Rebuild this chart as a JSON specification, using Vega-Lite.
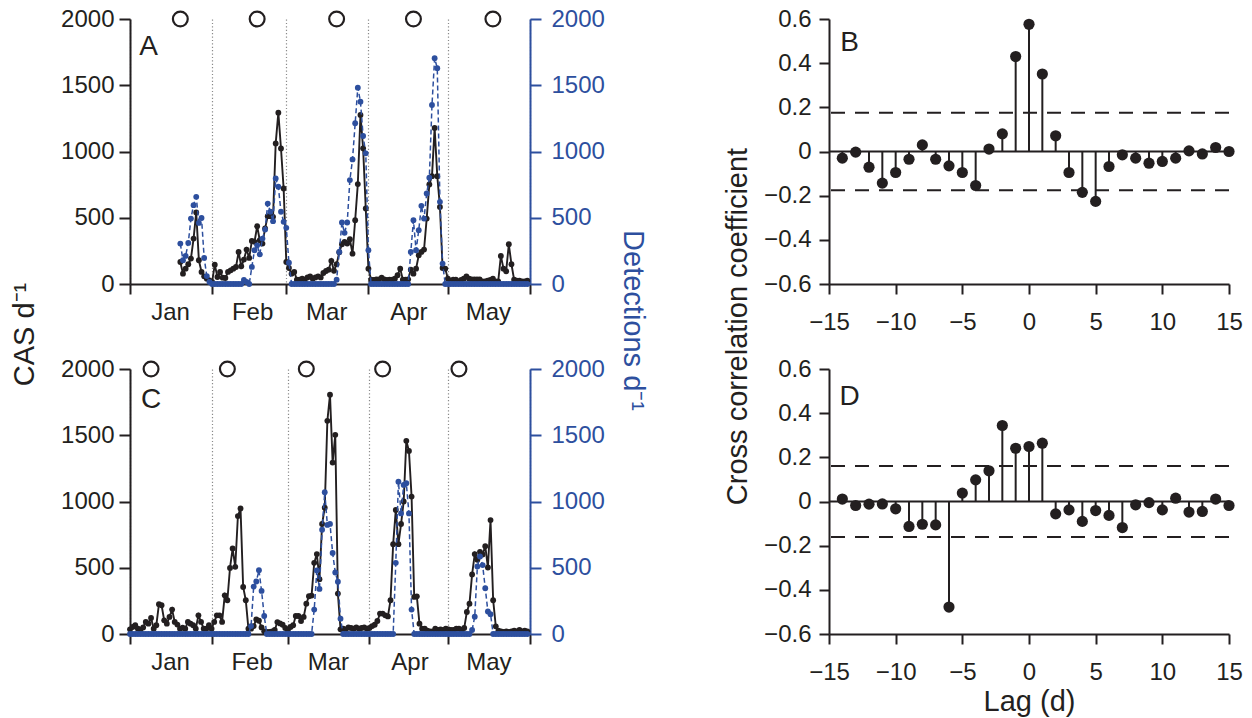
{
"$schema": "https://vega.github.io/schema/vega-lite/v6.json",
"background": "white",
"padding": {"left": 10, "top": 7, "right": 5, "bottom": 5},
"datasets": {
"tsA": [
{"t":"2011-01-20","cas":166,"det":305},{"t":"2011-01-21","cas":78,"det":179},{"t":"2011-01-22","cas":116,"det":212},{"t":"2011-01-23","cas":149,"det":310},{"t":"2011-01-24","cas":192,"det":494},{"t":"2011-01-25","cas":343,"det":595},{"t":"2011-01-26","cas":540,"det":658},{"t":"2011-01-27","cas":179,"det":461},{"t":"2011-01-28","cas":91,"det":499},{"t":"2011-01-29","cas":58,"det":197},{"t":"2011-01-30","cas":40,"det":60},{"t":"2011-01-31","cas":28,"det":15},
{"t":"2011-02-01","cas":15,"det":0},{"t":"2011-02-02","cas":146,"det":0},{"t":"2011-02-03","cas":53,"det":0},{"t":"2011-02-04","cas":91,"det":0},{"t":"2011-02-05","cas":48,"det":0},{"t":"2011-02-06","cas":45,"det":0},{"t":"2011-02-07","cas":91,"det":0},{"t":"2011-02-08","cas":103,"det":0},{"t":"2011-02-09","cas":116,"det":0},{"t":"2011-02-10","cas":128,"det":0},{"t":"2011-02-11","cas":242,"det":0},{"t":"2011-02-12","cas":134,"det":0},{"t":"2011-02-13","cas":184,"det":30},{"t":"2011-02-14","cas":260,"det":15},{"t":"2011-02-15","cas":197,"det":0},{"t":"2011-02-16","cas":325,"det":129},{"t":"2011-02-17","cas":318,"det":255},{"t":"2011-02-18","cas":436,"det":292},{"t":"2011-02-19","cas":330,"det":224},{"t":"2011-02-20","cas":305,"det":343},{"t":"2011-02-21","cas":420,"det":411},{"t":"2011-02-22","cas":512,"det":607},{"t":"2011-02-23","cas":512,"det":545},{"t":"2011-02-24","cas":507,"det":474},{"t":"2011-02-25","cas":1061,"det":797},{"t":"2011-02-26","cas":1293,"det":734},{"t":"2011-02-27","cas":1023,"det":545},{"t":"2011-02-28","cas":721,"det":469},
{"t":"2011-03-01","cas":166,"det":424},{"t":"2011-03-02","cas":121,"det":161},{"t":"2011-03-03","cas":78,"det":0},{"t":"2011-03-04","cas":91,"det":0},{"t":"2011-03-05","cas":33,"det":0},{"t":"2011-03-06","cas":33,"det":0},{"t":"2011-03-07","cas":40,"det":0},{"t":"2011-03-08","cas":33,"det":0},{"t":"2011-03-09","cas":50,"det":0},{"t":"2011-03-10","cas":58,"det":0},{"t":"2011-03-11","cas":40,"det":0},{"t":"2011-03-12","cas":50,"det":0},{"t":"2011-03-13","cas":58,"det":0},{"t":"2011-03-14","cas":50,"det":0},{"t":"2011-03-15","cas":83,"det":0},{"t":"2011-03-16","cas":98,"det":0},{"t":"2011-03-17","cas":108,"det":0},{"t":"2011-03-18","cas":175,"det":0},{"t":"2011-03-19","cas":100,"det":0},{"t":"2011-03-20","cas":150,"det":33},{"t":"2011-03-21","cas":240,"det":242},{"t":"2011-03-22","cas":300,"det":464},{"t":"2011-03-23","cas":318,"det":386},{"t":"2011-03-24","cas":305,"det":464},{"t":"2011-03-25","cas":338,"det":784},{"t":"2011-03-26","cas":229,"det":940},{"t":"2011-03-27","cas":481,"det":1213},{"t":"2011-03-28","cas":754,"det":1482},{"t":"2011-03-29","cas":1276,"det":1376},{"t":"2011-03-30","cas":1024,"det":1117},{"t":"2011-03-31","cas":570,"det":986},
{"t":"2011-04-01","cas":116,"det":255},{"t":"2011-04-02","cas":33,"det":0},{"t":"2011-04-03","cas":30,"det":0},{"t":"2011-04-04","cas":35,"det":0},{"t":"2011-04-05","cas":35,"det":0},{"t":"2011-04-06","cas":48,"det":0},{"t":"2011-04-07","cas":35,"det":0},{"t":"2011-04-08","cas":30,"det":0},{"t":"2011-04-09","cas":33,"det":0},{"t":"2011-04-10","cas":33,"det":0},{"t":"2011-04-11","cas":40,"det":0},{"t":"2011-04-12","cas":66,"det":0},{"t":"2011-04-13","cas":116,"det":0},{"t":"2011-04-14","cas":33,"det":0},{"t":"2011-04-15","cas":33,"det":0},{"t":"2011-04-16","cas":35,"det":0},{"t":"2011-04-17","cas":108,"det":242},{"t":"2011-04-18","cas":78,"det":481},{"t":"2011-04-19","cas":116,"det":255},{"t":"2011-04-20","cas":217,"det":406},{"t":"2011-04-21","cas":242,"det":590},{"t":"2011-04-22","cas":260,"det":494},{"t":"2011-04-23","cas":494,"det":683},{"t":"2011-04-24","cas":751,"det":802},{"t":"2011-04-25","cas":814,"det":1351},{"t":"2011-04-26","cas":1178,"det":1704},{"t":"2011-04-27","cas":814,"det":1629},{"t":"2011-04-28","cas":582,"det":620},{"t":"2011-04-29","cas":121,"det":154},{"t":"2011-04-30","cas":116,"det":0},
{"t":"2011-05-01","cas":40,"det":0},{"t":"2011-05-02","cas":25,"det":0},{"t":"2011-05-03","cas":33,"det":0},{"t":"2011-05-04","cas":33,"det":0},{"t":"2011-05-05","cas":20,"det":0},{"t":"2011-05-06","cas":30,"det":0},{"t":"2011-05-07","cas":40,"det":0},{"t":"2011-05-08","cas":58,"det":0},{"t":"2011-05-09","cas":40,"det":0},{"t":"2011-05-10","cas":35,"det":0},{"t":"2011-05-11","cas":35,"det":0},{"t":"2011-05-12","cas":35,"det":0},{"t":"2011-05-13","cas":35,"det":0},{"t":"2011-05-14","cas":20,"det":0},{"t":"2011-05-15","cas":20,"det":0},{"t":"2011-05-16","cas":25,"det":0},{"t":"2011-05-17","cas":30,"det":0},{"t":"2011-05-18","cas":40,"det":0},{"t":"2011-05-19","cas":20,"det":0},{"t":"2011-05-20","cas":20,"det":0},{"t":"2011-05-21","cas":212,"det":0},{"t":"2011-05-22","cas":116,"det":0},{"t":"2011-05-23","cas":96,"det":0},{"t":"2011-05-24","cas":300,"det":0},{"t":"2011-05-25","cas":149,"det":0},{"t":"2011-05-26","cas":33,"det":0},{"t":"2011-05-27","cas":25,"det":0},{"t":"2011-05-28","cas":25,"det":0},{"t":"2011-05-29","cas":20,"det":0},{"t":"2011-05-30","cas":20,"det":0},{"t":"2011-05-31","cas":25,"det":0}
],
"tsC": [
{"t":"2012-01-01","cas":35,"det":0},{"t":"2012-01-02","cas":53,"det":0},{"t":"2012-01-03","cas":66,"det":0},{"t":"2012-01-04","cas":40,"det":0},{"t":"2012-01-05","cas":33,"det":0},{"t":"2012-01-06","cas":50,"det":0},{"t":"2012-01-07","cas":91,"det":0},{"t":"2012-01-08","cas":78,"det":0},{"t":"2012-01-09","cas":121,"det":0},{"t":"2012-01-10","cas":40,"det":0},{"t":"2012-01-11","cas":66,"det":0},{"t":"2012-01-12","cas":225,"det":0},{"t":"2012-01-13","cas":217,"det":0},{"t":"2012-01-14","cas":103,"det":0},{"t":"2012-01-15","cas":78,"det":0},{"t":"2012-01-16","cas":129,"det":0},{"t":"2012-01-17","cas":184,"det":0},{"t":"2012-01-18","cas":91,"det":0},{"t":"2012-01-19","cas":71,"det":0},{"t":"2012-01-20","cas":40,"det":0},{"t":"2012-01-21","cas":48,"det":0},{"t":"2012-01-22","cas":40,"det":0},{"t":"2012-01-23","cas":91,"det":0},{"t":"2012-01-24","cas":78,"det":0},{"t":"2012-01-25","cas":66,"det":0},{"t":"2012-01-26","cas":40,"det":0},{"t":"2012-01-27","cas":141,"det":0},{"t":"2012-01-28","cas":91,"det":0},{"t":"2012-01-29","cas":40,"det":0},{"t":"2012-01-30","cas":40,"det":0},{"t":"2012-01-31","cas":66,"det":0},
{"t":"2012-02-01","cas":40,"det":0},{"t":"2012-02-02","cas":91,"det":0},{"t":"2012-02-03","cas":141,"det":0},{"t":"2012-02-04","cas":141,"det":0},{"t":"2012-02-05","cas":91,"det":0},{"t":"2012-02-06","cas":292,"det":0},{"t":"2012-02-07","cas":255,"det":0},{"t":"2012-02-08","cas":499,"det":0},{"t":"2012-02-09","cas":645,"det":0},{"t":"2012-02-10","cas":507,"det":0},{"t":"2012-02-11","cas":890,"det":0},{"t":"2012-02-12","cas":948,"det":0},{"t":"2012-02-13","cas":355,"det":0},{"t":"2012-02-14","cas":255,"det":0},{"t":"2012-02-15","cas":40,"det":0},{"t":"2012-02-16","cas":40,"det":60},{"t":"2012-02-17","cas":60,"det":358},{"t":"2012-02-18","cas":110,"det":396},{"t":"2012-02-19","cas":100,"det":482},{"t":"2012-02-20","cas":50,"det":325},{"t":"2012-02-21","cas":20,"det":136},{"t":"2012-02-22","cas":15,"det":0},{"t":"2012-02-23","cas":15,"det":0},{"t":"2012-02-24","cas":20,"det":0},{"t":"2012-02-25","cas":30,"det":0},{"t":"2012-02-26","cas":90,"det":0},{"t":"2012-02-27","cas":80,"det":0},{"t":"2012-02-28","cas":70,"det":0},{"t":"2012-02-29","cas":45,"det":0},
{"t":"2012-03-01","cas":25,"det":0},{"t":"2012-03-02","cas":53,"det":0},{"t":"2012-03-03","cas":66,"det":0},{"t":"2012-03-04","cas":136,"det":0},{"t":"2012-03-05","cas":136,"det":0},{"t":"2012-03-06","cas":98,"det":0},{"t":"2012-03-07","cas":129,"det":0},{"t":"2012-03-08","cas":229,"det":0},{"t":"2012-03-09","cas":285,"det":0},{"t":"2012-03-10","cas":290,"det":0},{"t":"2012-03-11","cas":537,"det":184},{"t":"2012-03-12","cas":603,"det":479},{"t":"2012-03-13","cas":414,"det":340},{"t":"2012-03-14","cas":830,"det":787},{"t":"2012-03-15","cas":953,"det":1070},{"t":"2012-03-16","cas":1609,"det":823},{"t":"2012-03-17","cas":1806,"det":831},{"t":"2012-03-18","cas":1294,"det":612},{"t":"2012-03-19","cas":1503,"det":464},{"t":"2012-03-20","cas":305,"det":395},{"t":"2012-03-21","cas":35,"det":116},{"t":"2012-03-22","cas":40,"det":0},{"t":"2012-03-23","cas":35,"det":0},{"t":"2012-03-24","cas":50,"det":0},{"t":"2012-03-25","cas":45,"det":0},{"t":"2012-03-26","cas":40,"det":0},{"t":"2012-03-27","cas":50,"det":0},{"t":"2012-03-28","cas":40,"det":0},{"t":"2012-03-29","cas":45,"det":0},{"t":"2012-03-30","cas":50,"det":0},{"t":"2012-03-31","cas":40,"det":0},
{"t":"2012-04-01","cas":45,"det":0},{"t":"2012-04-02","cas":60,"det":0},{"t":"2012-04-03","cas":70,"det":0},{"t":"2012-04-04","cas":98,"det":0},{"t":"2012-04-05","cas":154,"det":0},{"t":"2012-04-06","cas":154,"det":0},{"t":"2012-04-07","cas":141,"det":0},{"t":"2012-04-08","cas":133,"det":0},{"t":"2012-04-09","cas":255,"det":0},{"t":"2012-04-10","cas":678,"det":0},{"t":"2012-04-11","cas":936,"det":537},{"t":"2012-04-12","cas":678,"det":1150},{"t":"2012-04-13","cas":830,"det":910},{"t":"2012-04-14","cas":1000,"det":1125},{"t":"2012-04-15","cas":1458,"det":1138},{"t":"2012-04-16","cas":1382,"det":910},{"t":"2012-04-17","cas":1037,"det":184},{"t":"2012-04-18","cas":280,"det":0},{"t":"2012-04-19","cas":284,"det":0},{"t":"2012-04-20","cas":78,"det":0},{"t":"2012-04-21","cas":40,"det":0},{"t":"2012-04-22","cas":40,"det":0},{"t":"2012-04-23","cas":25,"det":0},{"t":"2012-04-24","cas":20,"det":0},{"t":"2012-04-25","cas":20,"det":0},{"t":"2012-04-26","cas":40,"det":0},{"t":"2012-04-27","cas":30,"det":0},{"t":"2012-04-28","cas":35,"det":0},{"t":"2012-04-29","cas":30,"det":0},{"t":"2012-04-30","cas":40,"det":0},
{"t":"2012-05-01","cas":35,"det":0},{"t":"2012-05-02","cas":30,"det":0},{"t":"2012-05-03","cas":30,"det":0},{"t":"2012-05-04","cas":40,"det":0},{"t":"2012-05-05","cas":40,"det":0},{"t":"2012-05-06","cas":30,"det":0},{"t":"2012-05-07","cas":45,"det":0},{"t":"2012-05-08","cas":166,"det":0},{"t":"2012-05-09","cas":229,"det":0},{"t":"2012-05-10","cas":450,"det":30},{"t":"2012-05-11","cas":603,"det":130},{"t":"2012-05-12","cas":560,"det":510},{"t":"2012-05-13","cas":620,"det":585},{"t":"2012-05-14","cas":600,"det":520},{"t":"2012-05-15","cas":663,"det":345},{"t":"2012-05-16","cas":502,"det":170},{"t":"2012-05-17","cas":860,"det":150},{"t":"2012-05-18","cas":255,"det":0},{"t":"2012-05-19","cas":58,"det":0},{"t":"2012-05-20","cas":25,"det":0},{"t":"2012-05-21","cas":20,"det":0},{"t":"2012-05-22","cas":15,"det":0},{"t":"2012-05-23","cas":20,"det":0},{"t":"2012-05-24","cas":15,"det":0},{"t":"2012-05-25","cas":20,"det":0},{"t":"2012-05-26","cas":25,"det":0},{"t":"2012-05-27","cas":20,"det":0},{"t":"2012-05-28","cas":30,"det":0},{"t":"2012-05-29","cas":20,"det":0},{"t":"2012-05-30","cas":25,"det":0},{"t":"2012-05-31","cas":20,"det":0}
],
"moonA": [{"t":"2011-01-20"},{"t":"2011-02-18"},{"t":"2011-03-20"},{"t":"2011-04-18"},{"t":"2011-05-18"}],
"moonC": [{"t":"2012-01-09"},{"t":"2012-02-07"},{"t":"2012-03-08"},{"t":"2012-04-06"},{"t":"2012-05-05"}],
"ccB": [
{"lag":-14,"r":-0.030},{"lag":-13,"r":-0.003},{"lag":-12,"r":-0.071},{"lag":-11,"r":-0.143},{"lag":-10,"r":-0.095},{"lag":-9,"r":-0.035},{"lag":-8,"r":0.030},{"lag":-7,"r":-0.035},{"lag":-6,"r":-0.065},{"lag":-5,"r":-0.095},{"lag":-4,"r":-0.154},{"lag":-3,"r":0.011},{"lag":-2,"r":0.080},{"lag":-1,"r":0.430},{"lag":0,"r":0.576},{"lag":1,"r":0.351},{"lag":2,"r":0.071},{"lag":3,"r":-0.095},{"lag":4,"r":-0.185},{"lag":5,"r":-0.226},{"lag":6,"r":-0.068},{"lag":7,"r":-0.015},{"lag":8,"r":-0.030},{"lag":9,"r":-0.053},{"lag":10,"r":-0.045},{"lag":11,"r":-0.030},{"lag":12,"r":0.003},{"lag":13,"r":-0.011},{"lag":14,"r":0.018},{"lag":15,"r":0.000}
],
"ccD": [
{"lag":-14,"r":0.011},{"lag":-13,"r":-0.018},{"lag":-12,"r":-0.012},{"lag":-11,"r":-0.011},{"lag":-10,"r":-0.033},{"lag":-9,"r":-0.113},{"lag":-8,"r":-0.103},{"lag":-7,"r":-0.106},{"lag":-6,"r":-0.478},{"lag":-5,"r":0.038},{"lag":-4,"r":0.098},{"lag":-3,"r":0.139},{"lag":-2,"r":0.344},{"lag":-1,"r":0.241},{"lag":0,"r":0.249},{"lag":1,"r":0.264},{"lag":2,"r":-0.056},{"lag":3,"r":-0.038},{"lag":4,"r":-0.090},{"lag":5,"r":-0.041},{"lag":6,"r":-0.063},{"lag":7,"r":-0.118},{"lag":8,"r":-0.015},{"lag":9,"r":-0.005},{"lag":10,"r":-0.038},{"lag":11,"r":0.015},{"lag":12,"r":-0.048},{"lag":13,"r":-0.045},{"lag":14,"r":0.011},{"lag":15,"r":-0.018}
]
},
"columns": 2,
"spacing": {"row": 85, "column": 299},
"bounds": "flush",
"concat": [
{
"width": 400, "height": 265,
"layer": [
{"layer": [
{"data": {"name": "tsA"},
 "mark": {"type": "line", "color": "#231f20", "strokeWidth": 1.9, "point": {"filled": true, "size": 34, "color": "#231f20", "opacity": 1}},
 "encoding": {
  "x": {"field": "t", "type": "temporal", "title": null,
        "scale": {"type": "utc", "domain": [{"year": 2011, "month": 1, "date": 1, "utc": true}, {"year": 2011, "month": 6, "date": 1, "utc": true}]},
        "axis": {"values": [{"year": 2011, "month": 1, "date": 1, "utc": true}, {"year": 2011, "month": 2, "date": 1, "utc": true}, {"year": 2011, "month": 3, "date": 1, "utc": true}, {"year": 2011, "month": 4, "date": 1, "utc": true}, {"year": 2011, "month": 5, "date": 1, "utc": true}, {"year": 2011, "month": 6, "date": 1, "utc": true}],
                 "labelExpr": "utcmonth(datum.value) == 5 ? '' : utcFormat(datum.value, '%b')",
                 "labelOffset": 40, "labelPadding": 6, "tickSize": 10,
                 "grid": true, "gridColor": "#8a8a8a", "gridDash": [1.2, 2.2], "gridWidth": 1.2}},
  "y": {"field": "cas", "type": "quantitative", "title": "CAS d⁻¹",
        "scale": {"domain": [0, 2000], "nice": false},
        "axis": {"values": [0, 500, 1000, 1500, 2000], "format": "d", "labelPadding": 5, "tickSize": 11,
                 "titleX": -106, "titleY": 315, "titleBaseline": "middle", "titleAlign": "center", "titleAngle": -90}}
 }},
{"data": {"name": "moonA"},
 "mark": {"type": "point", "shape": "circle", "filled": false, "size": 220, "strokeWidth": 2.2, "color": "#231f20", "opacity": 1},
 "encoding": {"x": {"field": "t", "type": "temporal", "title": null}, "y": {"datum": 2000, "type": "quantitative"}}},
{"data": {"values": [{"label": "A"}]},
 "mark": {"type": "text", "fontSize": 28, "align": "center", "baseline": "middle", "color": "#231f20", "font": "Liberation Sans"},
 "encoding": {"x": {"datum": {"year": 2011, "month": 1, "date": 8, "utc": true}, "type": "temporal"}, "y": {"datum": 1790, "type": "quantitative"}, "text": {"field": "label"}}}
]},
{"data": {"name": "tsA"},
 "mark": {"type": "line", "color": "#2d4f9e", "strokeWidth": 1.5, "strokeDash": [5, 3], "point": {"filled": true, "size": 34, "color": "#2d4f9e", "opacity": 1}},
 "encoding": {
  "x": {"field": "t", "type": "temporal", "title": null},
  "y": {"field": "det", "type": "quantitative", "title": "Detections d⁻¹",
        "scale": {"domain": [0, 2000], "nice": false},
        "axis": {"orient": "right", "values": [0, 500, 1000, 1500, 2000], "format": "d", "labelPadding": 10, "tickSize": 11,
                 "labelColor": "#2d4f9e", "tickColor": "#2d4f9e", "domainColor": "#2d4f9e", "titleColor": "#2d4f9e",
                 "titleX": 102, "titleY": 301, "titleBaseline": "middle", "titleAlign": "center", "titleAngle": 90}}
 }}
],
"resolve": {"scale": {"y": "independent"}}
},
{
"width": 400, "height": 265,
"layer": [
{"data": {"values": [{"level": 0}]},
 "mark": {"type": "rule", "color": "#231f20", "strokeWidth": 2},
 "encoding": {"y": {"field": "level", "type": "quantitative", "title": "Cross correlation coefficient",
   "scale": {"domain": [-0.6, 0.6], "nice": false},
   "axis": {"values": [-0.6, -0.4, -0.2, 0, 0.2, 0.4, 0.6], "labelExpr": "datum.value == 0 ? '0' : format(datum.value, '.1f')", "labelPadding": 8, "tickSize": 10,
            "titleX": -92, "titleY": 307, "titleBaseline": "middle", "titleAlign": "center", "titleAngle": -90}}}},
{"data": {"values": [{"level": 0.175}, {"level": -0.175}]},
 "mark": {"type": "rule", "color": "#231f20", "strokeWidth": 2, "strokeDash": [14, 10]},
 "encoding": {"y": {"field": "level", "type": "quantitative", "title": "Cross correlation coefficient"}}},
{"data": {"name": "ccB"},
 "mark": {"type": "rule", "color": "#231f20", "strokeWidth": 2},
 "encoding": {
  "x": {"field": "lag", "type": "quantitative", "title": null, "scale": {"domain": [-15, 15], "nice": false},
        "axis": {"values": [-15, -10, -5, 0, 5, 10, 15], "labelPadding": 16, "tickSize": 10}},
  "y": {"field": "r", "type": "quantitative", "title": "Cross correlation coefficient"},
  "y2": {"datum": 0}}},
{"data": {"name": "ccB"},
 "mark": {"type": "point", "shape": "circle", "filled": true, "size": 125, "color": "#231f20", "opacity": 1},
 "encoding": {
  "x": {"field": "lag", "type": "quantitative", "title": null},
  "y": {"field": "r", "type": "quantitative", "title": "Cross correlation coefficient"}}},
{"data": {"values": [{"label": "B"}]},
 "mark": {"type": "text", "fontSize": 28, "align": "center", "baseline": "middle", "color": "#231f20", "font": "Liberation Sans"},
 "encoding": {"x": {"datum": -13.45, "type": "quantitative"}, "y": {"datum": 0.49, "type": "quantitative"}, "text": {"field": "label"}}}
]
},
{
"width": 400, "height": 265,
"layer": [
{"layer": [
{"data": {"name": "tsC"},
 "mark": {"type": "line", "color": "#231f20", "strokeWidth": 1.9, "point": {"filled": true, "size": 34, "color": "#231f20", "opacity": 1}},
 "encoding": {
  "x": {"field": "t", "type": "temporal", "title": null,
        "scale": {"type": "utc", "domain": [{"year": 2012, "month": 1, "date": 1, "utc": true}, {"year": 2012, "month": 6, "date": 1, "utc": true}]},
        "axis": {"values": [{"year": 2012, "month": 1, "date": 1, "utc": true}, {"year": 2012, "month": 2, "date": 1, "utc": true}, {"year": 2012, "month": 3, "date": 1, "utc": true}, {"year": 2012, "month": 4, "date": 1, "utc": true}, {"year": 2012, "month": 5, "date": 1, "utc": true}, {"year": 2012, "month": 6, "date": 1, "utc": true}],
                 "labelExpr": "utcmonth(datum.value) == 5 ? '' : utcFormat(datum.value, '%b')",
                 "labelOffset": 40, "labelPadding": 6, "tickSize": 10,
                 "grid": true, "gridColor": "#8a8a8a", "gridDash": [1.2, 2.2], "gridWidth": 1.2}},
  "y": {"field": "cas", "type": "quantitative", "title": null,
        "scale": {"domain": [0, 2000], "nice": false},
        "axis": {"values": [0, 500, 1000, 1500, 2000], "format": "d", "labelPadding": 5, "tickSize": 11}}
 }},
{"data": {"name": "moonC"},
 "mark": {"type": "point", "shape": "circle", "filled": false, "size": 220, "strokeWidth": 2.2, "color": "#231f20", "opacity": 1},
 "encoding": {"x": {"field": "t", "type": "temporal", "title": null}, "y": {"datum": 2000, "type": "quantitative"}}},
{"data": {"values": [{"label": "C"}]},
 "mark": {"type": "text", "fontSize": 28, "align": "center", "baseline": "middle", "color": "#231f20", "font": "Liberation Sans"},
 "encoding": {"x": {"datum": {"year": 2012, "month": 1, "date": 9, "utc": true}, "type": "temporal"}, "y": {"datum": 1765, "type": "quantitative"}, "text": {"field": "label"}}}
]},
{"data": {"name": "tsC"},
 "mark": {"type": "line", "color": "#2d4f9e", "strokeWidth": 1.5, "strokeDash": [5, 3], "point": {"filled": true, "size": 34, "color": "#2d4f9e", "opacity": 1}},
 "encoding": {
  "x": {"field": "t", "type": "temporal", "title": null},
  "y": {"field": "det", "type": "quantitative", "title": null,
        "scale": {"domain": [0, 2000], "nice": false},
        "axis": {"orient": "right", "values": [0, 500, 1000, 1500, 2000], "format": "d", "labelPadding": 10, "tickSize": 11,
                 "labelColor": "#2d4f9e", "tickColor": "#2d4f9e", "domainColor": "#2d4f9e"}}
 }}
],
"resolve": {"scale": {"y": "independent"}}
},
{
"width": 400, "height": 265,
"layer": [
{"data": {"values": [{"level": 0}]},
 "mark": {"type": "rule", "color": "#231f20", "strokeWidth": 2},
 "encoding": {"y": {"field": "level", "type": "quantitative", "title": null,
   "scale": {"domain": [-0.6, 0.6], "nice": false},
   "axis": {"values": [-0.6, -0.4, -0.2, 0, 0.2, 0.4, 0.6], "labelExpr": "datum.value == 0 ? '0' : format(datum.value, '.1f')", "labelPadding": 8, "tickSize": 10}}}},
{"data": {"values": [{"level": 0.161}, {"level": -0.161}]},
 "mark": {"type": "rule", "color": "#231f20", "strokeWidth": 2, "strokeDash": [14, 10]},
 "encoding": {"y": {"field": "level", "type": "quantitative", "title": null}}},
{"data": {"name": "ccD"},
 "mark": {"type": "rule", "color": "#231f20", "strokeWidth": 2},
 "encoding": {
  "x": {"field": "lag", "type": "quantitative", "title": "Lag (d)", "scale": {"domain": [-15, 15], "nice": false},
        "axis": {"values": [-15, -10, -5, 0, 5, 10, 15], "labelPadding": 16, "tickSize": 10, "titlePadding": 3}},
  "y": {"field": "r", "type": "quantitative", "title": null},
  "y2": {"datum": 0}}},
{"data": {"name": "ccD"},
 "mark": {"type": "point", "shape": "circle", "filled": true, "size": 125, "color": "#231f20", "opacity": 1},
 "encoding": {
  "x": {"field": "lag", "type": "quantitative", "title": "Lag (d)"},
  "y": {"field": "r", "type": "quantitative", "title": null}}},
{"data": {"values": [{"label": "D"}]},
 "mark": {"type": "text", "fontSize": 28, "align": "center", "baseline": "middle", "color": "#231f20", "font": "Liberation Sans"},
 "encoding": {"x": {"datum": -13.45, "type": "quantitative"}, "y": {"datum": 0.475, "type": "quantitative"}, "text": {"field": "label"}}}
]
}
],
"config": {
 "view": {"stroke": null},
 "font": "Liberation Sans",
 "axis": {"labelFont": "Liberation Sans", "titleFont": "Liberation Sans", "labelFontSize": 24, "titleFontSize": 29, "titleFontWeight": "normal",
          "labelColor": "#231f20", "titleColor": "#231f20", "domainColor": "#231f20", "tickColor": "#231f20",
          "domainWidth": 2, "tickWidth": 2, "tickSize": 10, "grid": false, "labelFlush": false, "labelOverlap": false, "labelBound": false}
}
}
